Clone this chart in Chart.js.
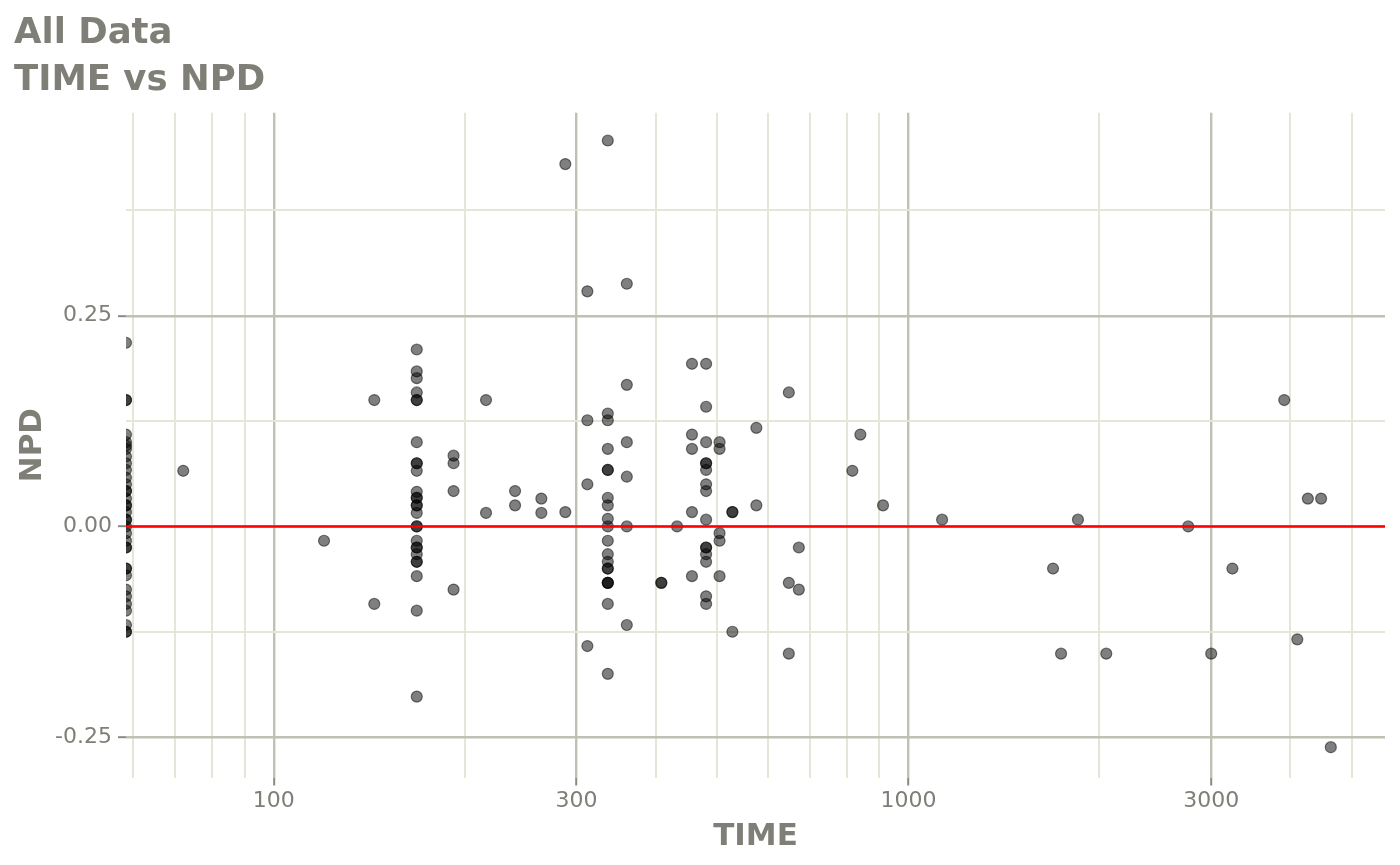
<!DOCTYPE html>
<html>
<head>
<meta charset="utf-8">
<title>All Data - TIME vs NPD</title>
<script src="https://cdn.jsdelivr.net/npm/chart.js@4/dist/chart.umd.min.js"></script>
<style>
  html, body { margin: 0; padding: 0; background: #ffffff; }
  #wrap { width: 1400px; height: 865px; }
</style>
</head>
<body>
<div id="wrap"><canvas id="npd-chart" width="1400" height="865"></canvas></div>
<script>
// Observation times (hours); 0 means the point sits on the left panel edge
const timeGroups = [0, 72, 120, 144, 168, 192, 216, 240, 264, 288, 312, 336, 360, 408, 432, 456, 480, 504, 528, 576, 648, 672, 816, 840, 912, 1130, 1690, 1740, 1850, 2050, 2760, 3000, 3240, 3910, 4100, 4260, 4470, 4630];

// NPD values for each time above
const npdGroups = [
  [0.218, 0.150, 0.150, 0.109, 0.100, 0.096, 0.092, 0.083, 0.075, 0.067, 0.058, 0.050, 0.042, 0.042, 0.033, 0.025, 0.025, 0.017, 0.008, 0.008, 0.0, -0.008, -0.017, -0.025, -0.025, -0.050, -0.050, -0.058, -0.075, -0.083, -0.092, -0.100, -0.117, -0.125, -0.125],
  [0.066],
  [-0.017],
  [0.150, -0.092],
  [0.210, 0.184, 0.176, 0.159, 0.150, 0.150, 0.100, 0.075, 0.075, 0.066, 0.041, 0.034, 0.034, 0.025, 0.025, 0.016, 0.0, 0.0, -0.017, -0.025, -0.025, -0.033, -0.042, -0.042, -0.059, -0.100, -0.202],
  [0.084, 0.075, 0.042, -0.075],
  [0.150, 0.016],
  [0.042, 0.025],
  [0.033, 0.016],
  [0.430, 0.017],
  [0.279, 0.126, 0.050, -0.142],
  [0.458, 0.134, 0.126, 0.092, 0.067, 0.067, 0.034, 0.025, 0.009, 0.0, -0.017, -0.033, -0.042, -0.050, -0.050, -0.067, -0.067, -0.067, -0.092, -0.175],
  [0.288, 0.168, 0.100, 0.059, 0.0, -0.117],
  [-0.067, -0.067],
  [0.0],
  [0.193, 0.109, 0.092, 0.017, -0.059],
  [0.193, 0.142, 0.100, 0.075, 0.075, 0.067, 0.050, 0.042, 0.008, -0.025, -0.025, -0.033, -0.042, -0.083, -0.092],
  [0.100, 0.092, -0.008, -0.017, -0.059],
  [0.017, 0.017, -0.125],
  [0.117, 0.025],
  [0.159, -0.067, -0.151],
  [-0.025, -0.075],
  [0.066],
  [0.109],
  [0.025],
  [0.008],
  [-0.050],
  [-0.151],
  [0.008],
  [-0.151],
  [0.0],
  [-0.151],
  [-0.050],
  [0.150],
  [-0.134],
  [0.033],
  [0.033],
  [-0.262]
];

// Axis breaks and limits
const xMajorTicks = [100, 300, 1000, 3000];
const xMinorTicks = [60, 70, 80, 90, 200, 400, 500, 600, 700, 800, 900, 2000, 4000, 5000];
const yMajorTicks = [-0.25, 0, 0.25];
const yMinorTicks = [-0.125, 0.125, 0.375];
const xLimits = [58.5, 5636];
const yLimits = [-0.298, 0.491];
const referenceNpd = 0;

const titleLines = ['All Data', 'TIME vs NPD'];
const xTitle = 'TIME';
const yTitle = 'NPD';

document.addEventListener("DOMContentLoaded", function(event) {
if (typeof Chart === 'undefined') {
  console.error('Chart.js is not loaded.');
  return;
}
const canvas = document.getElementById('npd-chart');
if (!canvas) {
  console.error('Canvas element not found');
  return;
}
const ctx = canvas.getContext('2d');

const textColor = '#7f7f77';
const majorGrid = '#c0c0b3';
const minorGrid = '#e5e5d8';

// Build scatter points; time 0 goes to the panel edge like ggplot does with -Inf
const points = [];
timeGroups.forEach((t, i) => {
  npdGroups[i].forEach(v => {
    points.push({ x: t > 0 ? t : xLimits[0], y: v });
  });
});

const isMajor = (list, v) => list.some(m => Math.abs(m - v) < 1e-9);

new Chart(ctx, {
  type: 'scatter',
  data: {
    datasets: [
      {
        type: 'line',
        label: 'zero',
        data: [{ x: xLimits[0], y: referenceNpd }, { x: xLimits[1], y: referenceNpd }],
        borderColor: '#ff0000',
        borderWidth: 2.5,
        pointRadius: 0,
        order: 0,
        clip: 0
      },
      {
        label: 'NPD',
        data: points,
        backgroundColor: 'rgba(0,0,0,0.5)',
        borderColor: 'rgba(0,0,0,0.5)',
        borderWidth: 1.2,
        pointRadius: 5.5,
        order: 1,
        clip: 0
      }
    ]
  },
  options: {
    responsive: false,
    animation: false,
    layout: { padding: { left: 14, right: 15, top: 0, bottom: 0 } },
    plugins: {
      legend: { display: false },
      tooltip: { enabled: false },
      title: {
        display: true,
        text: titleLines,
        align: 'start',
        color: textColor,
        font: { family: 'DejaVu Sans', size: 35.5, weight: 'bold', lineHeight: 1.32 },
        padding: { top: 10, bottom: 9 }
      }
    },
    scales: {
      x: {
        type: 'logarithmic',
        min: xLimits[0],
        max: xLimits[1],
        afterBuildTicks: scale => {
          scale.ticks = xMinorTicks.concat(xMajorTicks).sort((a, b) => a - b).map(v => ({ value: v }));
        },
        afterFit: scale => { scale.height = 87.5; },
        border: { display: false },
        grid: {
          color: c => isMajor(xMajorTicks, c.tick.value) ? majorGrid : minorGrid,
          lineWidth: c => isMajor(xMajorTicks, c.tick.value) ? 2.4 : 2,
          tickColor: c => isMajor(xMajorTicks, c.tick.value) ? '#8a8a82' : 'rgba(0,0,0,0)',
          tickLength: 8,
          tickWidth: 2
        },
        ticks: {
          autoSkip: false,
          maxRotation: 0,
          padding: 3,
          color: textColor,
          font: { family: 'DejaVu Sans', size: 22 },
          callback: value => isMajor(xMajorTicks, value) ? String(value) : ''
        },
        title: {
          display: true,
          text: xTitle,
          color: textColor,
          font: { family: 'DejaVu Sans', size: 31, weight: 'bold', lineHeight: 1.2 },
          padding: { top: 0, bottom: 9 }
        }
      },
      y: {
        type: 'linear',
        min: yLimits[0],
        max: yLimits[1],
        afterBuildTicks: scale => {
          scale.ticks = yMinorTicks.concat(yMajorTicks).sort((a, b) => a - b).map(v => ({ value: v }));
        },
        afterFit: scale => { scale.width = 112; },
        border: { display: false },
        grid: {
          color: c => isMajor(yMajorTicks, c.tick.value) ? majorGrid : minorGrid,
          lineWidth: c => isMajor(yMajorTicks, c.tick.value) ? 2.4 : 2,
          tickColor: c => isMajor(yMajorTicks, c.tick.value) ? '#8a8a82' : 'rgba(0,0,0,0)',
          tickLength: 8,
          tickWidth: 2
        },
        ticks: {
          autoSkip: false,
          padding: 6,
          color: textColor,
          font: { family: 'DejaVu Sans', size: 22 },
          callback: value => isMajor(yMajorTicks, value) ? value.toFixed(2) : ''
        },
        title: {
          display: true,
          text: yTitle,
          color: textColor,
          font: { family: 'DejaVu Sans', size: 31, weight: 'bold', lineHeight: 1.2 },
          padding: { top: 0, bottom: 0 }
        }
      }
    }
  }
});
});
</script>
</body>
</html>
